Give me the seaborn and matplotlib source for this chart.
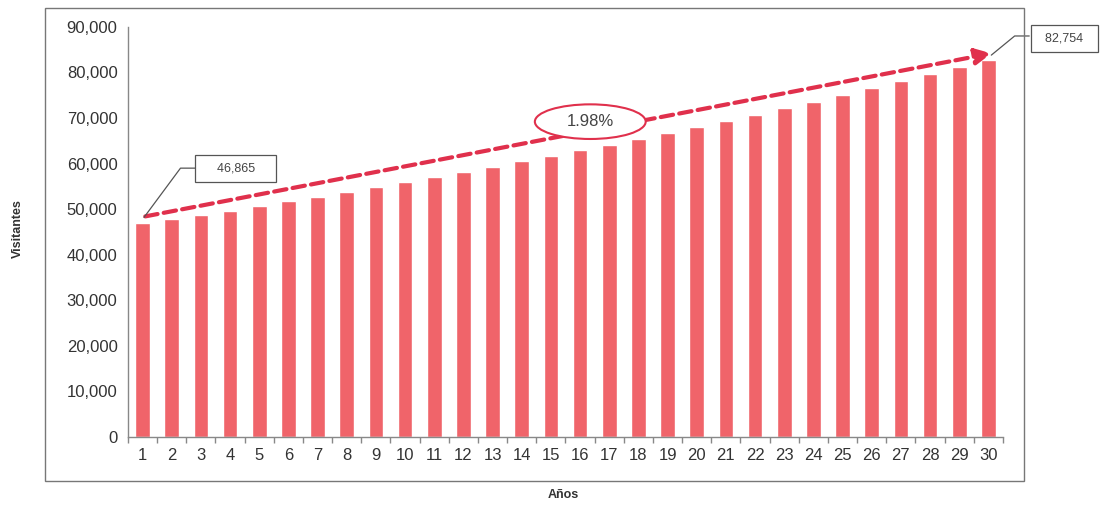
import matplotlib
matplotlib.use("Agg")
import matplotlib.pyplot as plt
from matplotlib.patches import Ellipse, Rectangle
import matplotlib.ticker as mticker
import seaborn as sns
import pandas as pd

# ── Data ──────────────────────────────────────────────────────────────────────
YEARS = list(range(1, 31))
VISITORS = [46865, 47793, 48739, 49704, 50688, 51692, 52715, 53759, 54823, 55909,
            57016, 58145, 59296, 60470, 61668, 62889, 64134, 65404, 66699, 68019,
            69366, 70740, 72140, 73569, 75025, 76511, 78026, 79571, 81146, 82753]
FIRST_LABEL = "46,865"
LAST_LABEL = "82,754"
GROWTH_LABEL = "1.98%"

BAR = "#F0646A"
ARROW = "#E0304C"
GREY = "#555555"

sns.set_theme(style="white")
plt.rcParams["font.family"] = ["Liberation Sans", "DejaVu Sans"]

df = pd.DataFrame({"Año": YEARS, "Visitantes": VISITORS})

fig = plt.figure(figsize=(11.09, 5.07), dpi=100)
ax = fig.add_axes([0.1154, 0.138, 0.789, 0.809])

sns.barplot(data=df, x="Año", y="Visitantes", color=BAR, width=0.5,
            saturation=1, ax=ax)

ax.set_xlim(-0.5, 29.5)
ax.set_ylim(0, 90000)
ax.yaxis.set_major_locator(mticker.MultipleLocator(10000))
ax.yaxis.set_major_formatter(mticker.FuncFormatter(lambda v, p: f"{v:,.0f}"))
ax.set_xlabel("")
ax.set_ylabel("")

for side in ["top", "right"]:
    ax.spines[side].set_visible(False)
for side in ["left", "bottom"]:
    ax.spines[side].set_color("#888888")
    ax.spines[side].set_linewidth(1)

ax.tick_params(axis="both", labelsize=12, colors="#888888", length=4, direction="out")
ax.tick_params(axis="x", length=0, pad=8)
ax.tick_params(axis="both", labelcolor="#333333")
ax.set_xticks(range(len(YEARS)))
ax.set_xticklabels([str(y) for y in YEARS])
ax.xaxis.set_minor_locator(mticker.FixedLocator([i + 0.5 for i in range(-1, 30)]))
ax.tick_params(axis="x", which="minor", length=4, color="#888888", bottom=True)

# ── Trend arrow ───────────────────────────────────────────────────────────────
ax.annotate("", xy=(29.2, 84300), xytext=(0.0, 48300),
            arrowprops=dict(arrowstyle="-|>,head_length=0.8,head_width=0.4",
                            color=ARROW, lw=3, linestyle=(0, (3, 1.5))),
            zorder=5)

# growth ellipse
ax.add_patch(Ellipse((15.35, 69200), width=3.8, height=7600, facecolor="white",
                     edgecolor=ARROW, lw=1.5, zorder=6))
ax.text(15.35, 69200, GROWTH_LABEL, ha="center", va="center", fontsize=12,
        color="#444444", zorder=7)

# callout labels
ax.plot([0.05, 1.3, 1.8], [48200, 59000, 59000], color=GREY, lw=0.9, zorder=6)
ax.text(3.2, 59000, "    " + FIRST_LABEL + "    ", ha="center", va="center",
        fontsize=9, color="#444444", zorder=7,
        bbox=dict(boxstyle="square,pad=0.6", fc="white", ec=GREY, lw=0.9))

ax.plot([29.1, 29.9, 30.4], [83800, 88000, 88000], color=GREY, lw=0.9,
        zorder=6, clip_on=False)
ax.text(31.6, 87400, "  " + LAST_LABEL + "  ", ha="center", va="center",
        fontsize=9, color="#444444", zorder=7, clip_on=False,
        bbox=dict(boxstyle="square,pad=0.6", fc="white", ec=GREY, lw=0.9))

# outer chart frame
fig.patches.append(Rectangle((0.0406, 0.0513), 0.883, 0.933, transform=fig.transFigure,
                             fill=False, edgecolor="#777777", lw=1, zorder=0))

fig.text(0.016, 0.55, "Visitantes", rotation=90, ha="center", va="center",
         fontsize=9, fontweight="bold", color="#333333")
fig.text(0.508, 0.024, "Años", ha="center", va="center", fontsize=9,
         fontweight="bold", color="#333333")

fig.savefig("out.png", dpi=100)
